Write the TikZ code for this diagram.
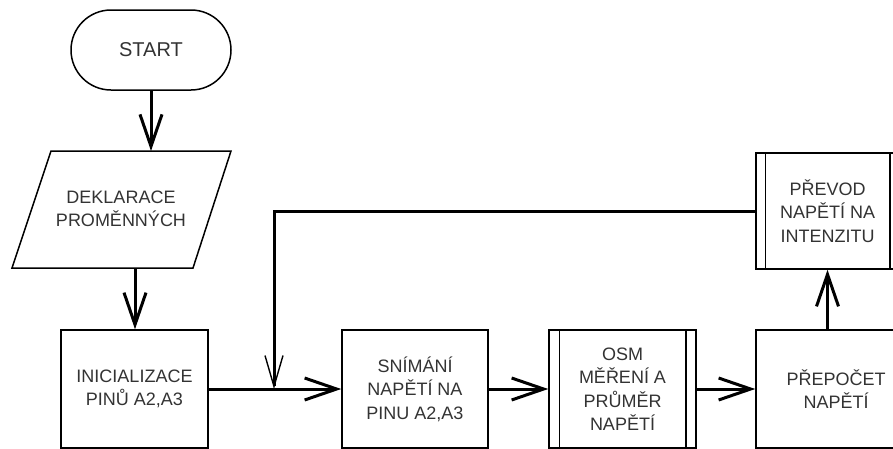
\documentclass[tikz,border=0pt]{standalone}
\usepackage{fontspec}
\setmainfont{Liberation Sans}
\usetikzlibrary{arrows.meta,calc}
\tikzset{
  boxline/.style={line width=1.5pt, draw=black},
  txt/.style={text=black!80, align=center, font=\fontsize{18pt}{23.5pt}\selectfont, inner sep=0pt},
  procbox/.style={boxline, rectangle, txt, minimum width=147pt, minimum height=118pt},
  conn/.style={line width=3pt, -{Straight Barb[length=32pt,width=22pt,line width=3pt]}},
  fbconn/.style={line width=3pt, -{Straight Barb[length=31pt,width=18pt,line width=1.4pt]}},
}
\begin{document}
\begin{tikzpicture}[x=1pt,y=-1pt]
\useasboundingbox[fill=white] (0,0) rectangle (893,448);

% START terminal
\node[boxline, rectangle, rounded corners=40pt, minimum width=160pt, minimum height=80pt, txt, font=\fontsize{20pt}{24pt}\selectfont] (start) at (151,50) {START};

% Parallelogram (data)
\draw[boxline] (51,151) -- (231,151) -- (193,268) -- (12,268) -- cycle;
\node[txt] (dek) at (121,209) {DEKLARACE\\PROMĚNNÝCH};
\coordinate (dektop) at (151,151);
\coordinate (dekbot) at (135,268);

% Process boxes
\node[procbox] (inic) at (134.5,389) {INICIALIZACE\\PINŮ A2,A3};
\node[procbox, minimum width=146pt] (snim) at (415,389) {SNÍMÁNÍ\\NAPĚTÍ NA\\PINU A2,A3};
\node[procbox] (osm) at (622.5,389) {OSM\\MĚŘENÍ A\\PRŮMĚR\\NAPĚTÍ};
\draw[boxline] ([xshift=11pt]osm.north west) -- ([xshift=11pt]osm.south west);
\draw[boxline] ([xshift=-11pt]osm.north east) -- ([xshift=-11pt]osm.south east);
\node[procbox, minimum width=160pt] (prepocet) at (836,389) {PŘEPOČET\\NAPĚTÍ};
\node[procbox, minimum width=143pt, minimum height=116pt] (prevod) at (827.5,211) {PŘEVOD\\NAPĚTÍ NA\\INTENZITU};
\draw[boxline] ([xshift=10pt]prevod.north west) -- ([xshift=10pt]prevod.south west);
\draw[boxline] ([xshift=-10pt]prevod.north east) -- ([xshift=-10pt]prevod.south east);

% Connectors
\draw[conn] (start.south) -- (dektop);
\draw[conn] (dekbot) -- (dekbot |- inic.north);
\draw[conn] (inic.east) -- (snim.west);
\draw[conn] (snim.east) -- (osm.west);
\draw[conn] (osm.east) -- (prepocet.west);
\draw[conn] (prepocet.north -| prevod.south) -- (prevod.south);
\coordinate (merge) at (274,389);
\draw[fbconn] (prevod.west) -| (merge);
\end{tikzpicture}
\end{document}
